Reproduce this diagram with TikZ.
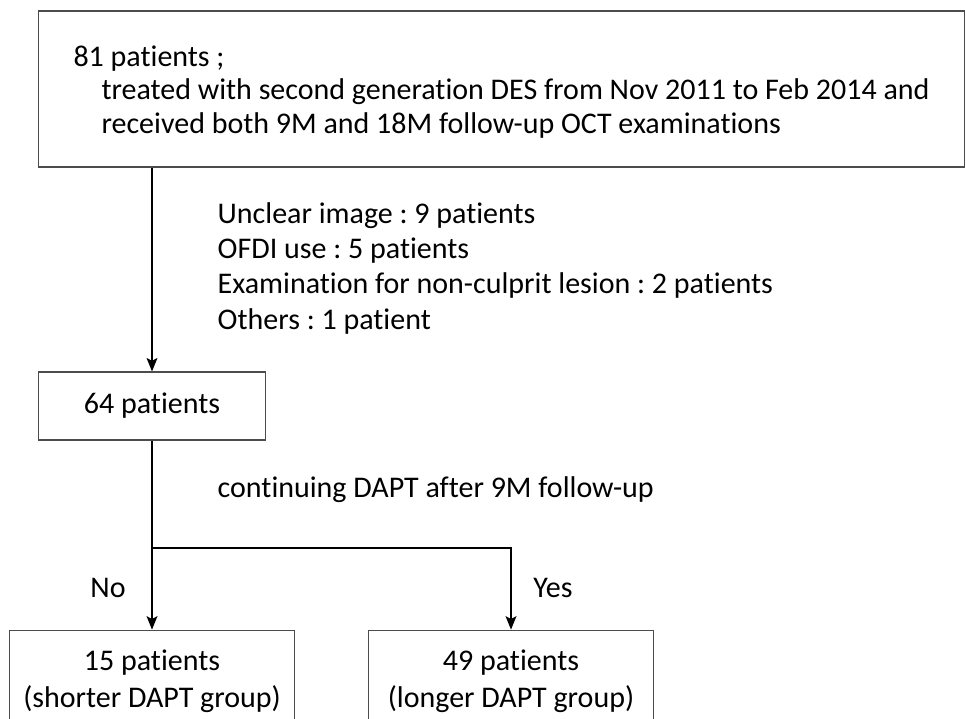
\documentclass[tikz,border=0pt]{standalone}
\usepackage{fontspec}
\setmainfont[Ligatures=NoCommon]{Carlito}
\usetikzlibrary{arrows.meta}
\frenchspacing

\tikzset{
  box/.style={draw=black!70,line width=0.8pt,align=center},
  link/.style={line width=1.6pt,-{Stealth[length=10pt,width=8pt,inset=2pt]}},
}

\begin{document}
\begin{tikzpicture}[x=0.75pt,y=-0.75pt,font=\fontsize{22.5}{25.3}\selectfont]

\useasboundingbox (0,0) rectangle (966,718);
\clip (0,0) rectangle (966,718);

\begin{scope}

\node[box,align=left,minimum width=695pt,minimum height=117pt] (all) at (501.5,89) {};
\node[align=left] (alltext) at (all.center |- 0,92)
  {81 patients ;\\
   \hspace*{21pt}treated with second generation DES from Nov 2011 to Feb 2014 and\\
   \hspace*{21pt}received both 9M and 18M follow-up OCT examinations};

\node[box,minimum width=170pt,minimum height=51pt] (mid) at (152,406) {64 patients};

\node[box,minimum width=214pt,minimum height=77pt,font=\fontsize{22.5}{27.8}\selectfont] (short) at (152,681.5)
  {15 patients\\(shorter DAPT group)};
\node[box,minimum width=214pt,minimum height=77pt,font=\fontsize{22.5}{27.8}\selectfont] (long) at (511,681.5)
  {49 patients\\(longer DAPT group)};

\node[anchor=west,align=left,font=\fontsize{22.5}{26.5}\selectfont] (excl) at (213,268)
  {Unclear image : 9 patients\\
   OFDI use : 5 patients\\
   Examination for non-culprit lesion : 2 patients\\
   Others : 1 patient};
\node[anchor=west] (cond) at (213,490) {continuing DAPT after 9M follow-up};

\coordinate (split) at (152,548);

\draw[link] (all.south -| mid) -- (mid.north);
\draw[line width=1.6pt] (mid.south) -- (split);
\draw[link] (split) -- (short.north);
\draw[link] (split) -| (long.north);

\node (no) at (108,588) {No};
\node (yes) at (553,588) {Yes};

\end{scope}

\end{tikzpicture}
\end{document}
